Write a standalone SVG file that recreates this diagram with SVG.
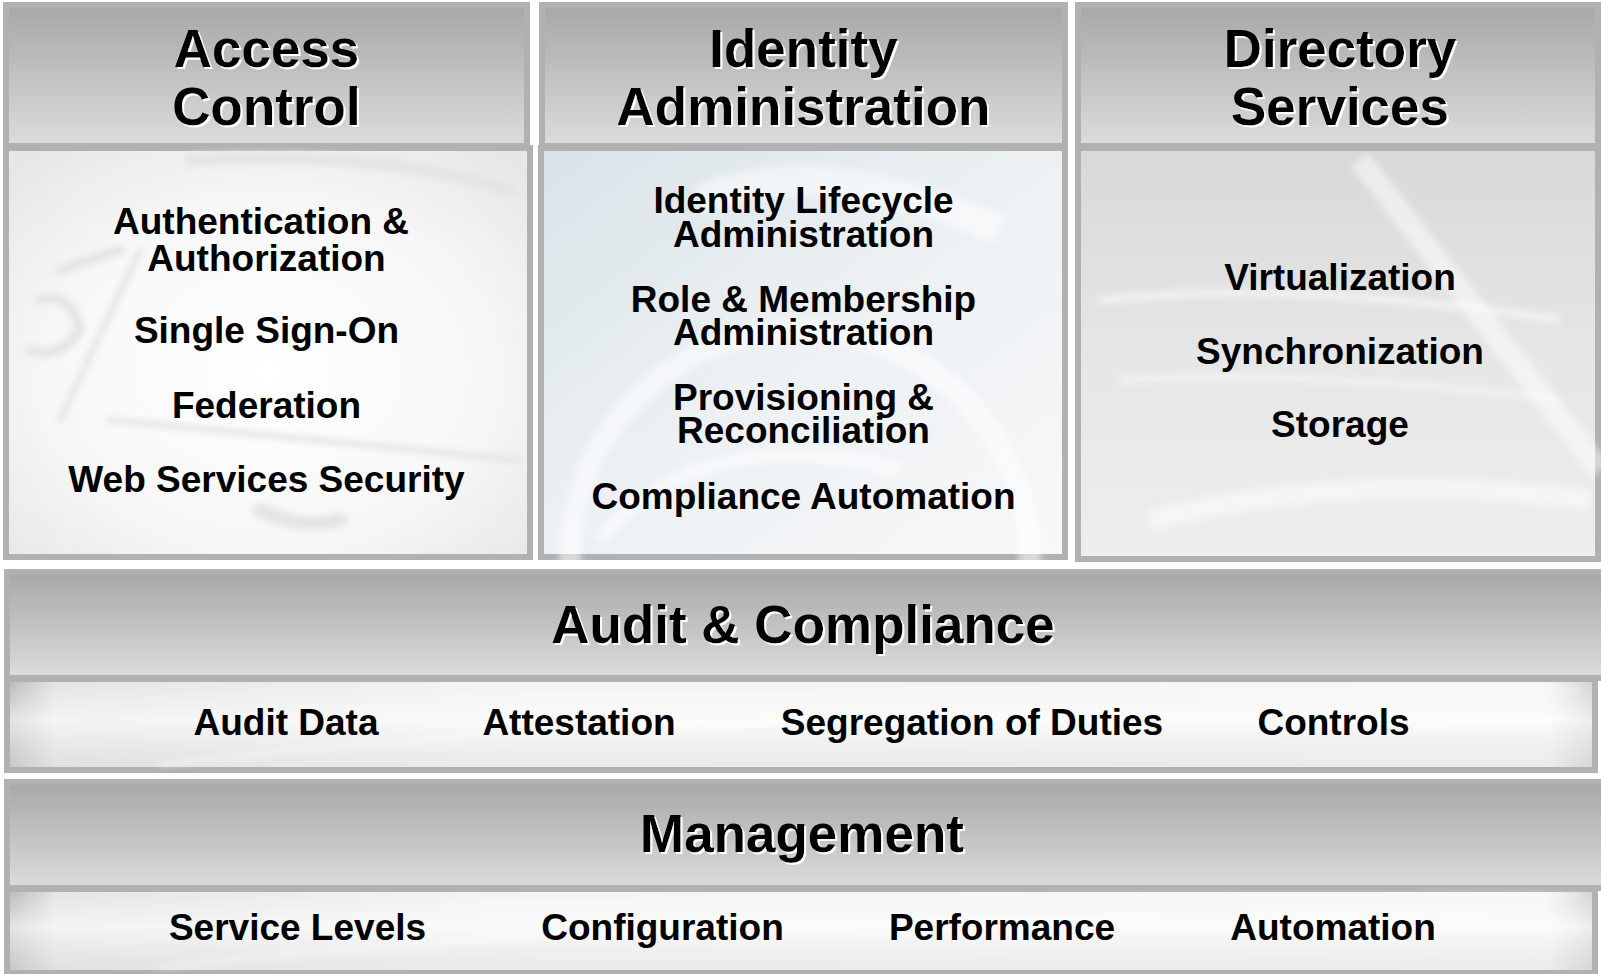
<svg xmlns="http://www.w3.org/2000/svg" width="1601" height="974" viewBox="0 0 1601 974">
  <defs>
    <linearGradient id="hdrGrad" x1="0" y1="0" x2="0" y2="1">
      <stop offset="0" stop-color="#a7a7a7"/>
      <stop offset="1" stop-color="#dcdcdc"/>
    </linearGradient>
    <radialGradient id="bodyA" cx="0.5" cy="0.55" r="0.7">
      <stop offset="0" stop-color="#ffffff"/>
      <stop offset="0.6" stop-color="#f7f7f7"/>
      <stop offset="1" stop-color="#e6e6e6"/>
    </radialGradient>
    <linearGradient id="bodyB" x1="0" y1="0" x2="1" y2="1">
      <stop offset="0" stop-color="#d9e3e8"/>
      <stop offset="0.5" stop-color="#edf1f3"/>
      <stop offset="1" stop-color="#f7f8f9"/>
    </linearGradient>
    <linearGradient id="bodyC" x1="0" y1="0" x2="0" y2="1">
      <stop offset="0" stop-color="#d8d8d8"/>
      <stop offset="0.5" stop-color="#e6e6e6"/>
      <stop offset="1" stop-color="#eeeeee"/>
    </linearGradient>
    <linearGradient id="subGradH" x1="0" y1="0" x2="1" y2="0">
      <stop offset="0" stop-color="#b8b8b8"/>
      <stop offset="0.03" stop-color="#e4e4e4"/>
      <stop offset="0.3" stop-color="#f3f3f3"/>
      <stop offset="0.97" stop-color="#f6f6f6"/>
      <stop offset="1" stop-color="#d0d0d0"/>
    </linearGradient>
    <linearGradient id="subGradV" x1="0" y1="0" x2="0" y2="1">
      <stop offset="0" stop-color="#ffffff" stop-opacity="0"/>
      <stop offset="0.45" stop-color="#ffffff" stop-opacity="0.6"/>
      <stop offset="1" stop-color="#dcdcdc" stop-opacity="0.4"/>
    </linearGradient>
    <filter id="wshadow" x="-5%" y="-20%" width="110%" height="140%">
      <feOffset in="SourceAlpha" dx="2" dy="2" result="off"/>
      <feFlood flood-color="#ffffff"/>
      <feComposite in2="off" operator="in" result="sh"/>
      <feMerge>
        <feMergeNode in="sh"/>
        <feMergeNode in="SourceGraphic"/>
      </feMerge>
    </filter>
    <filter id="soft" x="-10%" y="-10%" width="120%" height="120%">
      <feGaussianBlur stdDeviation="3"/>
    </filter>
    <style>
      .hdr { fill: url(#hdrGrad); stroke: #b1b1b1; stroke-width: 6; }
      .frame { stroke: #b1b1b1; stroke-width: 6; }
      .sub { fill: url(#subGradH); stroke: #b1b1b1; stroke-width: 6; }
      .subov { fill: url(#subGradV); }
      .title { font-family: "Liberation Sans", Arial, sans-serif; font-weight: bold; font-size: 53px; text-anchor: middle; fill: #000; filter: url(#wshadow); }
      .item { font-family: "Liberation Sans", Arial, sans-serif; font-weight: bold; font-size: 37px; text-anchor: middle; fill: #000; }
      .wm { fill: none; stroke: #e4e4e4; stroke-linecap: round; filter: url(#soft); }
      .streak { fill: none; stroke: #ffffff; stroke-opacity: 0.5; filter: url(#soft); }
    </style>
  </defs>

  <rect x="0" y="0" width="1601" height="974" fill="#ffffff"/>

  <g id="access-control">
    <rect class="hdr" x="6" y="5" width="521" height="141"/>
    <text class="title" x="266.5" y="67">Access</text>
    <text class="title" x="266.5" y="125">Control</text>
    <rect class="frame" x="6" y="148" width="524" height="409" fill="url(#bodyA)"/>
    <g class="wm">
      <path d="M60 270 L120 250 M40 300 Q70 290 80 330 Q60 360 30 350" stroke-width="10"/>
      <path d="M110 420 L520 460 M60 420 L140 250" stroke-width="6"/>
      <path d="M190 160 Q380 150 510 190" stroke-width="12"/>
      <path d="M260 510 Q300 530 340 520" stroke-width="14"/>
    </g>
    <text class="item" x="261" y="234">Authentication &amp;</text>
    <text class="item" x="266.5" y="271">Authorization</text>
    <text class="item" x="266.5" y="343">Single Sign-On</text>
    <text class="item" x="266.5" y="418">Federation</text>
    <text class="item" x="266.5" y="492">Web Services Security</text>
  </g>

  <g id="identity-administration">
    <rect class="hdr" x="542" y="5" width="523" height="141"/>
    <text class="title" x="803.5" y="67">Identity</text>
    <text class="title" x="803.5" y="125">Administration</text>
    <rect class="frame" x="541" y="148" width="524" height="409" fill="url(#bodyB)"/>
    <g class="streak">
      <circle cx="800" cy="560" r="230" stroke-width="22"/>
      <path d="M700 200 Q820 150 1000 230" stroke-width="30"/>
      <path d="M600 540 Q700 420 900 470" stroke-width="14"/>
    </g>
    <text class="item" x="803.5" y="213">Identity Lifecycle</text>
    <text class="item" x="803.5" y="247">Administration</text>
    <text class="item" x="803.5" y="312">Role &amp; Membership</text>
    <text class="item" x="803.5" y="345">Administration</text>
    <text class="item" x="803.5" y="410">Provisioning &amp;</text>
    <text class="item" x="803.5" y="443">Reconciliation</text>
    <text class="item" x="803.5" y="509">Compliance Automation</text>
  </g>

  <g id="directory-services">
    <rect class="hdr" x="1078" y="5" width="520" height="141"/>
    <text class="title" x="1340" y="67">Directory</text>
    <text class="title" x="1340" y="125">Services</text>
    <rect class="frame" x="1078" y="148" width="520" height="411" fill="url(#bodyC)"/>
    <g class="streak">
      <path d="M1360 160 L1600 470" stroke-width="22"/>
      <path d="M1100 300 Q1300 280 1560 320" stroke-width="8"/>
      <path d="M1120 380 Q1320 370 1560 400" stroke-width="6"/>
      <path d="M1150 520 Q1350 470 1590 500" stroke-width="20"/>
    </g>
    <text class="item" x="1340" y="290">Virtualization</text>
    <text class="item" x="1340" y="364">Synchronization</text>
    <text class="item" x="1340" y="437">Storage</text>
  </g>

  <g id="audit-compliance">
    <rect class="hdr" x="7" y="572" width="1600" height="106"/>
    <text class="title" x="803" y="643">Audit &amp; Compliance</text>
    <rect class="sub" x="7" y="679" width="1588" height="91"/>
    <rect class="subov" x="10" y="682" width="1582" height="85"/>
    <g class="streak">
      <path d="M160 765 Q700 700 1580 720" stroke-width="4"/>
      <path d="M450 700 Q900 690 1580 690" stroke-width="3"/>
    </g>
    <text class="item" x="286" y="735">Audit Data</text>
    <text class="item" x="579" y="735">Attestation</text>
    <text class="item" x="972" y="735">Segregation of Duties</text>
    <text class="item" x="1333.5" y="735">Controls</text>
  </g>

  <g id="management">
    <rect class="hdr" x="7" y="782" width="1600" height="106"/>
    <text class="title" x="802" y="852">Management</text>
    <rect class="sub" x="7" y="889" width="1588" height="84"/>
    <rect class="subov" x="10" y="892" width="1582" height="78"/>
    <g class="streak">
      <path d="M160 968 Q700 905 1580 925" stroke-width="4"/>
      <path d="M450 905 Q900 895 1580 895" stroke-width="3"/>
    </g>
    <text class="item" x="297.5" y="940">Service Levels</text>
    <text class="item" x="662.5" y="940">Configuration</text>
    <text class="item" x="1002" y="940">Performance</text>
    <text class="item" x="1333" y="940">Automation</text>
  </g>

  <g id="connectors"/>
</svg>
